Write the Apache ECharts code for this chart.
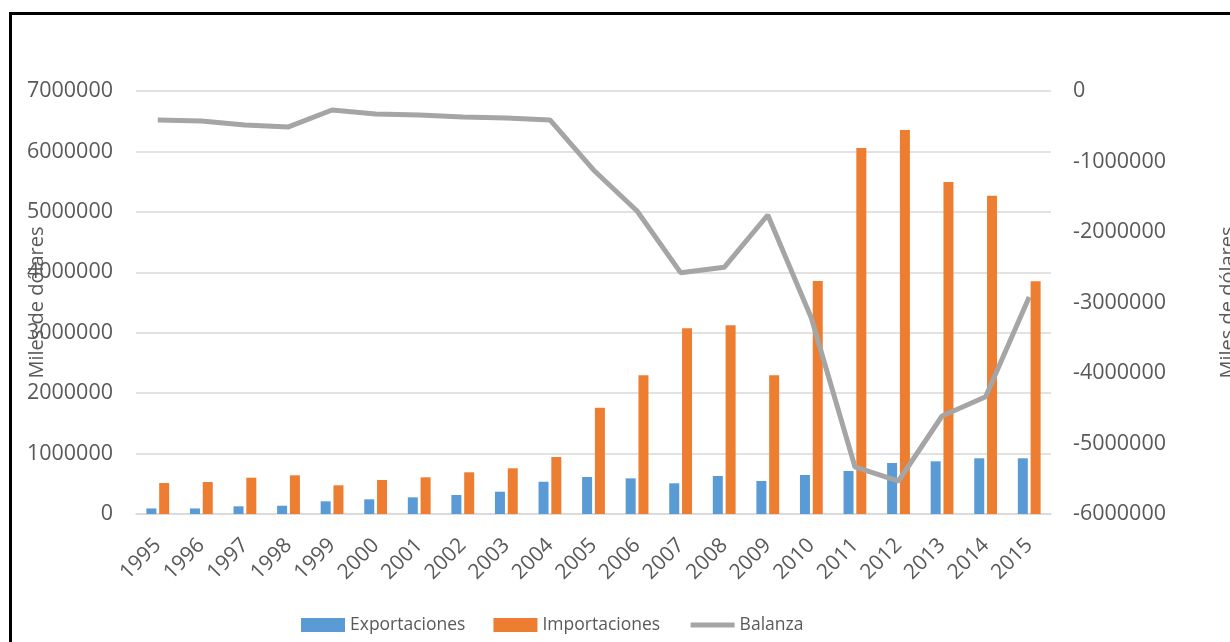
<!DOCTYPE html>
<html>
<head>
<meta charset="utf-8">
<script src="https://cdn.jsdelivr.net/npm/echarts@6/dist/echarts.min.js"></script>
<style>
  html, body { margin: 0; padding: 0; background: #fff; }
  #chart-container { width: 1230px; height: 642px; }
</style>
</head>
<body>
<div id="chart-container"></div>
<script>
// datos (miles de dólares)
const years = ['1995', '1996', '1997', '1998', '1999', '2000', '2001', '2002', '2003', '2004',
    '2005', '2006', '2007', '2008', '2009', '2010', '2011', '2012', '2013', '2014', '2015'];
const exportaciones = [92000, 92000, 127000, 137000, 210000, 243000, 276000, 314000, 369000, 534000,
    612000, 590000, 508000, 629000, 546000, 645000, 712000, 844000, 872000, 922000, 922000];
const importaciones = [513000, 530000, 601000, 640000, 475000, 563000, 607000, 690000, 756000, 943000,
    1759000, 2295000, 3073000, 3123000, 2295000, 3856000, 6057000, 6355000, 5494000, 5268000, 3850000];
const balanza = [-411000, -425000, -482000, -510000, -270000, -326000, -340000, -369000, -383000, -411000,
    -1120000, -1702000, -2577000, -2501000, -1759000, -3220000, -5330000, -5532000, -4610000, -4336000, -2922000];
const leftTicks = { min: 0, max: 7000000, step: 1000000 };
const rightTicks = { min: -6000000, max: 0, step: 1000000 };

const chartContainer = document.getElementById('chart-container');
const myChart = echarts.init(chartContainer);

const txt = '#595959';
const font = '"Open Sans", "DejaVu Sans", sans-serif';

const option = {
    animation: false,
    textStyle: { fontFamily: font, color: txt },
    // marco negro
    graphic: [{
        type: 'rect',
        shape: { x: 10.5, y: 13.5, width: 1400, height: 800 },
        style: { fill: 'none', stroke: '#000', lineWidth: 3 }
    }],
    grid: { left: 136, right: 179, top: 91, bottom: 128, outerBoundsMode: 'none', containLabel: false },
    legend: {
        left: 296,
        top: 611,
        itemWidth: 44,
        itemHeight: 14,
        itemGap: 28,
        textStyle: { fontFamily: font, fontSize: 17.5, color: txt },
        data: [
            { name: 'Exportaciones', icon: 'rect' },
            { name: 'Importaciones', icon: 'rect' },
            { name: 'Balanza', itemStyle: { opacity: 0 }, lineStyle: { width: 5, color: '#a5a5a5' } }
        ]
    },
    xAxis: {
        type: 'category',
        data: years,
        axisLine: { lineStyle: { color: '#d9d9d9', width: 1.5 } },
        axisTick: { show: false },
        axisLabel: { rotate: 45, margin: 28, fontSize: 21, color: txt, fontFamily: font }
    },
    yAxis: [
        {
            type: 'value',
            min: leftTicks.min,
            max: leftTicks.max,
            interval: leftTicks.step,
            name: 'Miles de dólares',
            nameLocation: 'middle',
            nameGap: 89,
            nameMoveOverlap: false,
            nameTextStyle: { fontSize: 20, color: txt, fontFamily: font },
            axisLabel: { fontSize: 21.5, margin: 23, color: txt, fontFamily: font, formatter: v => String(v) },
            splitLine: { lineStyle: { color: '#d9d9d9', width: 1.5 } },
            axisLine: { show: false },
            axisTick: { show: false }
        },
        {
            type: 'value',
            min: rightTicks.min,
            max: rightTicks.max,
            interval: rightTicks.step,
            name: 'Miles de dólares',
            nameLocation: 'middle',
            nameGap: 167,
            nameMoveOverlap: false,
            nameTextStyle: { fontSize: 20, color: txt, fontFamily: font },
            axisLabel: { fontSize: 21.5, margin: 22, color: txt, fontFamily: font, formatter: v => String(v) },
            splitLine: { show: false },
            axisLine: { show: false },
            axisTick: { show: false }
        }
    ],
    series: [
        {
            name: 'Exportaciones',
            type: 'bar',
            data: exportaciones,
            barWidth: 10,
            barGap: '28%',
            itemStyle: { color: '#5b9bd5' }
        },
        {
            name: 'Importaciones',
            type: 'bar',
            data: importaciones,
            barWidth: 10,
            itemStyle: { color: '#ed7d31' }
        },
        {
            name: 'Balanza',
            type: 'line',
            yAxisIndex: 1,
            data: balanza,
            symbol: 'none',
            lineStyle: { color: '#a5a5a5', width: 5 },
            itemStyle: { color: '#a5a5a5' }
        }
    ]
};

myChart.setOption(option, { notMerge: true });
</script>
</body>
</html>
